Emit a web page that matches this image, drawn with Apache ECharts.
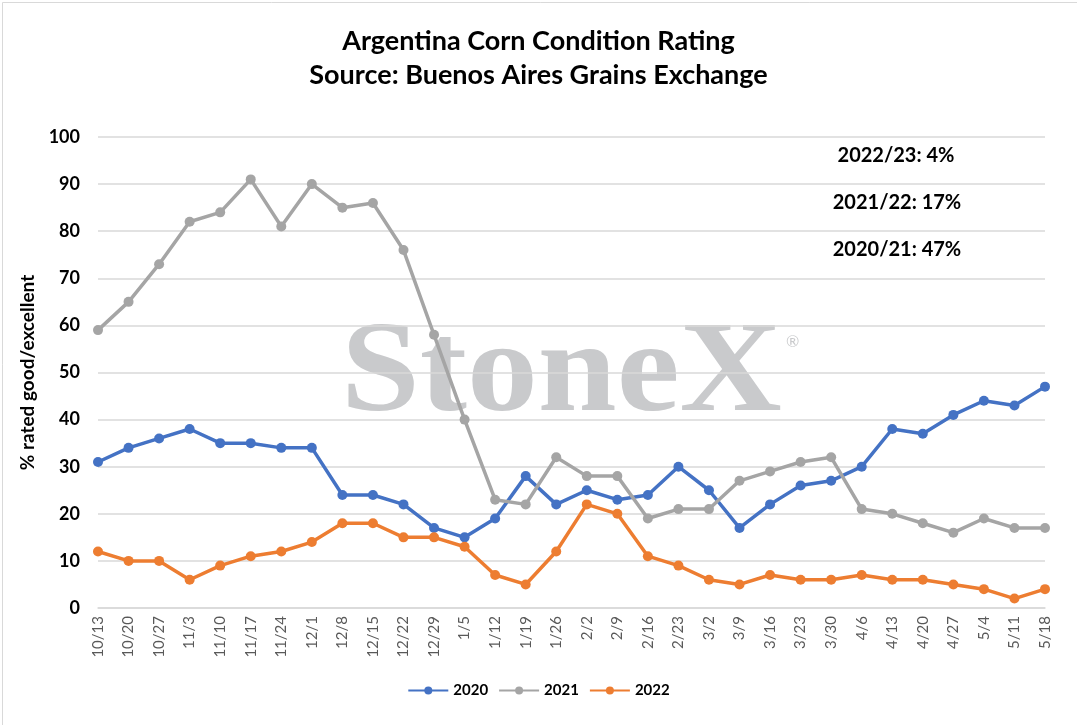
<!DOCTYPE html>
<html>
<head>
<meta charset="utf-8">
<script src="https://cdn.jsdelivr.net/npm/echarts@6/dist/echarts.min.js"></script>
<style>
  html, body { margin: 0; padding: 0; background: #fff; }
  #chart { width: 1077px; height: 725px; }
</style>
</head>
<body>
<div id="chart"></div>
<script>
// data
var weeks = ['10/13', '10/20', '10/27', '11/3', '11/10', '11/17', '11/24', '12/1', '12/8', '12/15',
  '12/22', '12/29', '1/5', '1/12', '1/19', '1/26', '2/2', '2/9', '2/16', '2/23', '3/2', '3/9',
  '3/16', '3/23', '3/30', '4/6', '4/13', '4/20', '4/27', '5/4', '5/11', '5/18'];
var y2020 = [31, 34, 36, 38, 35, 35, 34, 34, 24, 24, 22, 17, 15, 19, 28, 22, 25, 23, 24, 30, 25, 17,
  22, 26, 27, 30, 38, 37, 41, 44, 43, 47];
var y2021 = [59, 65, 73, 82, 84, 91, 81, 90, 85, 86, 76, 58, 40, 23, 22, 32, 28, 28, 19, 21, 21, 27,
  29, 31, 32, 21, 20, 18, 16, 19, 17, 17];
var y2022 = [12, 10, 10, 6, 9, 11, 12, 14, 18, 18, 15, 15, 13, 7, 5, 12, 22, 20, 11, 9, 6, 5,
  7, 6, 6, 7, 6, 6, 5, 4, 2, 4];
var notes = ['2022/23: 4%', '2021/22: 17%', '2020/21: 47%'];

var font = 'Lato, "Open Sans", sans-serif';

var chart = echarts.init(document.getElementById('chart'));

function line(name, data, color) {
  return {
    name: name,
    type: 'line',
    data: data,
    symbol: 'circle',
    symbolSize: 10,
    itemStyle: { color: color },
    lineStyle: { color: color, width: 3.5 },
    emphasis: { disabled: true }
  };
}

function note(text, x, y) {
  return {
    type: 'text',
    x: x, y: y,
    style: { text: text, fontFamily: font, fontWeight: 'bold', fontSize: 20, fill: '#000',
      align: 'center', verticalAlign: 'middle' }
  };
}

var option = {
  backgroundColor: '#fff',
  animation: false,
  title: {
    text: 'Argentina Corn Condition Rating\nSource: Buenos Aires Grains Exchange',
    left: 'center',
    top: 19,
    textStyle: {
      fontFamily: font,
      fontWeight: 'bold',
      fontSize: 27,
      lineHeight: 34,
      color: '#000'
    }
  },
  legend: {
    bottom: 22,
    left: 'center',
    itemWidth: 40,
    itemHeight: 10,
    itemGap: 10,
    textStyle: { fontFamily: font, fontWeight: 'bold', fontSize: 15, color: '#000' },
    data: ['2020', '2021', '2022']
  },
  grid: {
    left: 98,
    right: 32,
    top: 137,
    bottom: 117
  },
  xAxis: {
    type: 'category',
    data: weeks,
    boundaryGap: false,
    axisLine: { lineStyle: { color: '#d9d9d9', width: 1.5 } },
    axisTick: { show: false },
    axisLabel: {
      rotate: 90,
      interval: 0,
      margin: 8,
      fontFamily: font,
      fontSize: 15,
      color: '#595959'
    }
  },
  yAxis: {
    type: 'value',
    min: 0,
    max: 100,
    interval: 10,
    name: '% rated good/excellent',
    nameLocation: 'middle',
    nameGap: 58,
    nameTextStyle: { fontFamily: font, fontWeight: 'bold', fontSize: 19, color: '#000' },
    axisLine: { show: false },
    axisTick: { show: false },
    axisLabel: { fontFamily: font, fontWeight: 'bold', fontSize: 18, color: '#000', margin: 18 },
    splitLine: { lineStyle: { color: '#d9d9d9', width: 1.5 } }
  },
  graphic: [
    {
      type: 'rect',
      left: 0, top: 0,
      shape: { x: 0.5, y: 0.5, width: 1076, height: 724 },
      style: { fill: 'none', stroke: '#d9d9d9', lineWidth: 1 },
      silent: true
    },
    {
      type: 'text',
      z: -10,
      x: 341,
      y: 311,
      scaleX: 1.09,
      style: {
        text: 'StoneX',
        fontFamily: '"Liberation Serif", "DejaVu Serif", serif',
        fontWeight: 'bold',
        fontSize: 130,
        fill: '#c9cacc'
      },
      silent: true
    },
    {
      type: 'text',
      z: -10,
      x: 786,
      y: 334,
      style: { text: '®', fontFamily: font, fontSize: 16, fill: '#c9cacc' },
      silent: true
    },
    note(notes[0], 896, 156),
    note(notes[1], 897, 203),
    note(notes[2], 897, 250)
  ],
  series: [
    line('2020', y2020, '#4472c4'),
    line('2021', y2021, '#a5a5a5'),
    line('2022', y2022, '#ed7d31')
  ]
};

option && chart.setOption(option);
</script>
</body>
</html>
